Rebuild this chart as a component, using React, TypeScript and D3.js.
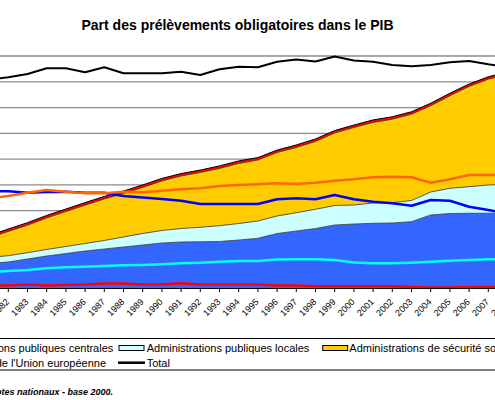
import React from "react";
import * as d3 from "d3";

const YEARS = [1981,1982,1983,1984,1985,1986,1987,1988,1989,1990,1991,1992,1993,1994,1995,1996,1997,1998,1999,2000,2001,2002,2003,2004,2005,2006,2007,2008];

// Amounts (billions of euros), stacked areas (right axis)
const CENTRAL = [95.0,100.9,112.5,124.1,133.8,143.5,151.3,159.1,166.8,174.6,178.4,179.6,180.4,186.2,192.8,211.4,221.1,230.8,244.4,248.3,251.0,252.2,257.2,283.2,289.0,289.8,289.8,291.0];
const LOCAL = [23.3,24.4,24.4,25.2,27.2,29.1,33.0,38.8,44.6,48.5,52.4,55.9,61.3,64.0,67.1,67.9,71.0,74.5,75.6,73.7,78.7,78.7,82.2,89.2,97.8,103.2,109.8,110.6];
const SOCIAL = [76.4,93.9,106.7,122.2,135.8,148.6,161.0,168.7,178.4,192.0,203.7,212.6,221.9,232.8,236.6,246.3,252.9,263.0,281.3,300.6,312.3,323.9,334.8,334.4,358.8,388.7,410.4,426.7];
const EU = [9.0,9.5,10.0,10.0,9.5,10.0,10.0,9.5,10.0,10.0,9.5,9.5,10.0,10.0,9.5,9.5,10.0,10.0,9.5,9.5,10.0,9.5,9.5,10.0,10.0,9.5,9.5,10.0];

// Shares of GDP (%), lines (left axis)
const PCT_CENTRAL = [18.8,18.76,18.49,18.62,18.68,18.49,18.49,17.85,17.55,17.26,16.93,16.29,16.29,16.29,16.29,17.21,17.40,17.21,18.04,17.21,16.74,16.43,15.96,17.07,16.93,15.77,15.13,14.45];
const PCT_SOCIAL = [17.36,17.85,18.49,19.01,18.68,18.37,18.37,18.68,18.56,18.87,19.14,19.34,19.78,19.98,20.11,20.31,20.17,20.43,20.81,21.08,21.47,21.59,21.47,20.43,21.08,21.92,21.92,21.92];
const PCT_LOCAL = [3.10,3.30,3.49,3.82,4.02,4.13,4.27,4.40,4.46,4.60,4.79,4.91,5.10,5.24,5.24,5.53,5.57,5.57,5.43,4.95,4.79,4.79,4.91,5.10,5.30,5.43,5.57,5.63];
const PCT_EU = [0.45,0.48,0.68,0.48,0.58,0.68,0.87,0.87,0.68,0.68,0.91,0.68,0.68,0.68,0.68,0.48,0.48,0.35,0.35,0.35,0.35,0.35,0.19,0.08,0.08,0.19,0.19,0.19];
const PCT_TOTAL = [40.44,40.87,41.51,42.62,42.62,41.84,42.81,41.65,41.65,41.65,41.96,41.32,42.42,42.93,42.81,43.90,44.32,43.93,44.90,44.13,43.90,43.26,43.00,43.26,43.78,44.03,43.39,42.87];

const LEFT_TICKS = [0,5,10,15,20,25,30,35,40,45];

const TITLE = "Part des prélèvements obligatoires dans le PIB";
const LEGEND_ROW1 = ["Administrations publiques centrales", "Administrations publiques locales", "Administrations de sécurité sociale"];
const LEGEND_ROW2 = ["Institutions de l'Union européenne", "Total"];
const SOURCE = "Source : Insee, comptes nationaux - base 2000.";

const FONT = "'Liberation Sans', Arial, sans-serif";

export default function App() {
  const W = 495, H = 400;
  const top = 56, bottom = 288;
  const x = d3.scaleLinear().domain([1982, 2007]).range([8.3, 488.3]);
  const yL = d3.scaleLinear().domain([0, 45]).range([bottom, top]);
  const yR = d3.scaleLinear().domain([0, 900]).range([bottom, top]);

  const rows = YEARS.map((yr, i) => ({
    year: yr, central: CENTRAL[i], local: LOCAL[i], social: SOCIAL[i], eu: EU[i],
  }));
  const keys = ["central", "local", "social", "eu"];
  const fills: Record<string, string> = { central: "#3366FF", local: "#CCFFFF", social: "#FFCC00", eu: "#FF0000" };
  const stacked = d3.stack<any>().keys(keys)(rows);
  const area = d3.area<any>()
    .x((d) => x(d.data.year))
    .y0((d) => yR(d[0]))
    .y1((d) => yR(d[1]));
  const topLine = d3.line<any>().x((d) => x(d.data.year)).y((d) => yR(d[1]));

  const pl = (vals: number[]) =>
    d3.line<number>().x((_, i) => x(YEARS[i])).y((v) => yL(v))(vals) || "";

  const lines = [
    { vals: PCT_CENTRAL, color: "#0000FF", w: 2.5 },
    { vals: PCT_SOCIAL, color: "#FF6600", w: 2.5 },
    { vals: PCT_LOCAL, color: "#00FFFF", w: 2.5 },
    { vals: PCT_EU, color: "#FF0000", w: 2.5 },
    { vals: PCT_TOTAL, color: "#000000", w: 2 },
  ];

  return (
    <svg width={W} height={H} style={{ position: "absolute", left: 0, top: 0, background: "#fff" }} fontFamily={FONT}>
      <rect x={0} y={0} width={W} height={H} fill="#fff" />
      <text x={237.5} y={30} textAnchor="middle" fontSize={14} fontWeight="bold" fill="#000">{TITLE}</text>

      {LEFT_TICKS.map((t) => (
        <line key={t} x1={-30} x2={W + 30} y1={yL(t)} y2={yL(t)} stroke="#8c8c8c" strokeWidth={1.3} />
      ))}

      {stacked.map((s) => (
        <path key={s.key} d={area(s) || ""} fill={fills[s.key]} />
      ))}
      {stacked.map((s) => (
        <path key={"b" + s.key} d={topLine(s) || ""} fill="none"
          stroke={s.key === "eu" ? "#000" : "#333"} strokeWidth={s.key === "eu" ? 1 : 0.8} />
      ))}

      {lines.map((l, i) => (
        <path key={i} d={pl(l.vals)} fill="none" stroke={l.color} strokeWidth={l.w} strokeLinejoin="round" />
      ))}

      <line x1={-30} x2={W + 30} y1={bottom + 0.5} y2={bottom + 0.5} stroke="#000" strokeWidth={1} />
      {YEARS.map((yr) => (
        <g key={yr}>
          <line x1={x(yr)} x2={x(yr)} y1={bottom} y2={bottom + 4} stroke="#000" strokeWidth={1} />
          <text transform={`translate(${x(yr) + 1.5},${302.5}) rotate(-45)`} textAnchor="end" fontSize={9} fill="#000">{yr}</text>
        </g>
      ))}

      {/* legend */}
      <rect x={-80} y={338.5} width={W + 160} height={31.5} fill="none" stroke="#000" strokeWidth={1} />
      <text x={113.3} y={351.7} textAnchor="end" fontSize={11} fill="#000">{LEGEND_ROW1[0]}</text>
      <rect x={119} y={345.5} width={25} height={5} fill="#CCFFFF" stroke="#000" strokeWidth={1} />
      <text x={146.7} y={351.7} fontSize={11} fill="#000">{LEGEND_ROW1[1]}</text>
      <rect x={322.7} y={345.5} width={25} height={5} fill="#FFCC00" stroke="#000" strokeWidth={1} />
      <text x={349.3} y={351.7} fontSize={11} fill="#000">{LEGEND_ROW1[2]}</text>
      <text x={106} y={367.3} textAnchor="end" fontSize={11} fill="#000">{LEGEND_ROW2[0]}</text>
      <line x1={118} x2={145} y1={362.7} y2={362.7} stroke="#000" strokeWidth={2.5} />
      <text x={146.7} y={367.3} fontSize={11} fill="#000">{LEGEND_ROW2[1]}</text>

      <text x={113} y={394.5} textAnchor="end" fontSize={9} fontWeight="bold" fontStyle="italic" fill="#000">{SOURCE}</text>
    </svg>
  );
}
